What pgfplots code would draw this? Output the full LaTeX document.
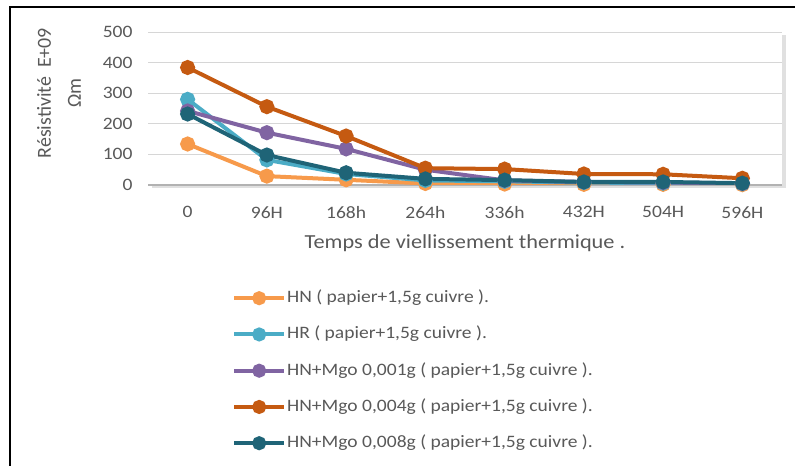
\documentclass[border=0pt]{standalone}
\usepackage{fontspec}
\setmainfont{Carlito}[FakeStretch=1.12]
\newfontfamily\ylfont{Carlito}
\usepackage{pgfplots}
\pgfplotsset{compat=1.18}

\definecolor{cHN}{HTML}{F79A4B}
\definecolor{cHR}{HTML}{4BACC6}
\definecolor{cP}{HTML}{8064A2}
\definecolor{cO}{HTML}{C55A11}
\definecolor{cT}{HTML}{1F6477}
\definecolor{txt}{HTML}{595959}

\begin{document}
\begin{tikzpicture}
\useasboundingbox (0bp,0bp) rectangle (795bp,466bp);
\fill[white] (0bp,0bp) rectangle (795bp,466bp);
\draw[line width=2.5bp] (10bp,0bp) -- (10bp,459bp) -- (796bp,459bp);
% plot area shadow
\fill[black!12] (152bp,277.5bp) rectangle (786bp,281bp);
\fill[black!12] (782bp,278bp) rectangle (786bp,431bp);
\begin{axis}[
    at={(148bp,281bp)}, anchor=south west,
    scale only axis,
    width=634bp, height=153bp,
    xmin=-0.5, xmax=7.5,
    ymin=0, ymax=500,
    xtick={0,...,7},
    xticklabels={0,96H,168h,264h,336h,432H,504H,596H},
    ytick={0,100,...,500},
    axis x line*=bottom, axis y line*=left,
    axis line style={-},
    y axis line style={draw=none},
    x axis line style={black!30, line width=1.5bp},
    major tick length=0pt,
    ymajorgrids,
    grid style={black!16, line width=0.8bp},
    tick label style={font=\fontsize{17.5}{20}\selectfont, text=txt},
    /pgf/number format/assume math mode=true,
    xticklabel style={yshift=-18bp},
    yticklabel style={xshift=-12bp},
    xlabel={Temps de viellissement thermique .},
    xlabel style={at={(axis description cs:0.5,0)}, anchor=north, yshift=-46bp,
                  font=\fontsize{20}{24}\selectfont, text=txt},
    ylabel={Résistivité\ \ E+09\\ Ωm},
    ylabel style={at={(axis description cs:-0.1404,0.60)}, anchor=center,
                  align=center, font=\ylfont\fontsize{20}{30}\selectfont, text=txt},
    every axis plot/.append style={line width=4bp, mark=*, mark size=5.5bp},
    legend cell align=left,
    legend style={at={(axis description cs:0.1325,-0.683)}, anchor=north west,
                  draw=none, fill=none, inner sep=0pt, row sep=19.25bp,
                  font=\fontsize{17.5}{20}\selectfont, text=txt,
                  nodes={inner xsep=1bp, inner ysep=0pt, text height=13bp, text depth=4bp}},
    legend image code/.code={\draw[mark repeat=2, mark phase=2, #1, mark size=5bp]
        plot coordinates {(0bp,0bp) (25bp,0bp) (50bp,0bp)};},
]
\addplot[color=cHN, mark options={fill=cHN}] coordinates {(0,134) (1,29) (2,17) (3,5) (4,3) (5,2) (6,2) (7,1)};
\addplot[color=cHR, mark options={fill=cHR}] coordinates {(0,280) (1,82) (2,36) (3,15) (4,12) (5,8) (6,6) (7,4)};
\addplot[color=cP, mark options={fill=cP}] coordinates {(0,242) (1,171) (2,118) (3,50) (4,15) (5,10) (6,8) (7,5)};
\addplot[color=cO, mark options={fill=cO}] coordinates {(0,384) (1,256) (2,160) (3,55) (4,52) (5,36) (6,35) (7,22)};
\addplot[color=cT, mark options={fill=cT}] coordinates {(0,232) (1,98) (2,40) (3,20) (4,16) (5,10) (6,10) (7,6)};
\legend{{HN ( papier+1,5g cuivre ).}, {HR ( papier+1,5g cuivre ).}, {HN+Mgo 0,001g ( papier+1,5g cuivre ).}, {HN+Mgo 0,004g ( papier+1,5g cuivre ).}, {HN+Mgo 0,008g ( papier+1,5g cuivre ).}}
\end{axis}
\end{tikzpicture}
\end{document}
